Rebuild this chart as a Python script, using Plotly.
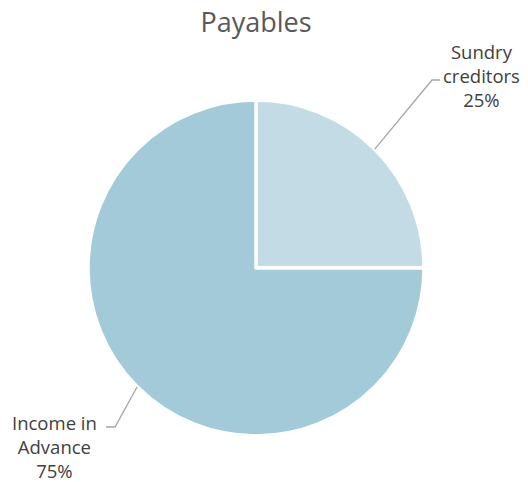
import math
import plotly.graph_objects as go

# ---- data ----
labels = ["Sundry creditors", "Income in Advance"]
label_text = ["Sundry<br>creditors", "Income in<br>Advance"]
values = [25, 75]
colors = ["#C2DBE4", "#A3CAD9"]
title_text = "Payables"

# ---- layout constants ----
W, H = 528, 482
cx, cy, r = 256, 268, 168  # pie centre / radius in pixels

fig = go.Figure(go.Pie(
    labels=labels,
    values=values,
    sort=False,
    direction="clockwise",
    rotation=0,
    textinfo="none",
    hoverinfo="label+percent",
    marker=dict(colors=colors, line=dict(color="white", width=3.5)),
    domain=dict(x=[(cx - r) / W, (cx + r) / W],
                y=[(H - cy - r) / H, (H - cy + r) / H]),
    showlegend=False,
))

total = sum(values)
# label centre positions (pixels) and elbow points
label_pos = [(481, 75), (54, 446)]
elbows = [((432, 80), (440, 80)), ((115, 427), (106, 427))]

cum = 0
for i, v in enumerate(values):
    theta = 2 * math.pi * (cum + v / 2) / total
    cum += v
    sx = cx + r * math.sin(theta)
    sy = cy - r * math.cos(theta)
    (ex, ey), (hx, hy) = elbows[i]
    pts = [(sx, sy), (ex, ey), (hx, hy)]
    path = "M " + " L ".join(f"{px / W},{1 - py / H}" for px, py in pts)
    fig.add_shape(type="path", path=path, xref="paper", yref="paper",
                  line=dict(color="#A6A6A6", width=1.3))
    pct = round(100 * v / total)
    lx, ly = label_pos[i]
    fig.add_annotation(x=lx / W, y=1 - ly / H, xref="paper", yref="paper",
                       text=f"{label_text[i]}<br>{pct}%", showarrow=False,
                       xanchor="center", yanchor="middle", align="center",
                       font=dict(family="Open Sans", size=18.5, color="#404040"))

fig.update_layout(
    width=W, height=H,
    margin=dict(l=0, r=0, t=0, b=0),
    paper_bgcolor="white", plot_bgcolor="white",
    title=dict(text=title_text, x=cx / W, xanchor="center", xref="container",
               y=1 - 23 / H, yanchor="middle", yref="container",
               font=dict(family="Open Sans", size=27, color="#595959")),
)

fig.write_html("out.html",
               config={"displayModeBar": False},
               post_script="document.body.style.margin='0';document.body.style.overflow='hidden';")
